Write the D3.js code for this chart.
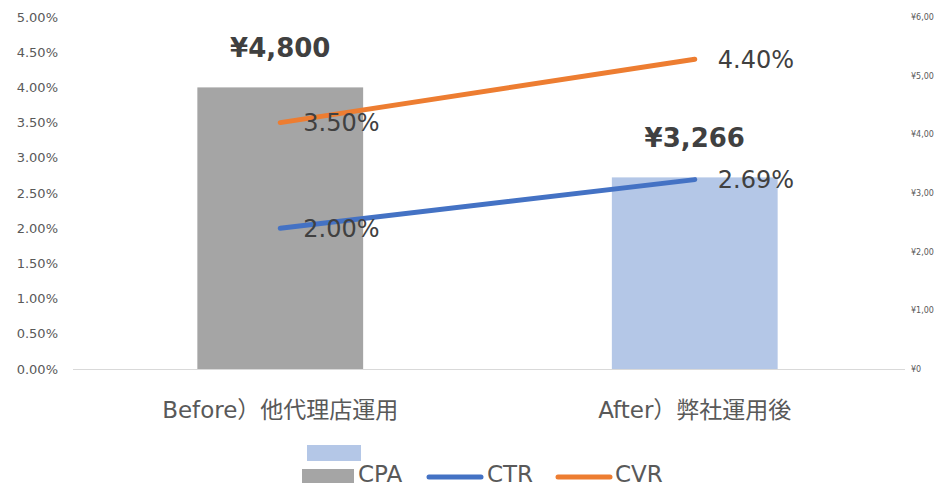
<!DOCTYPE html>
<html><head><meta charset="utf-8">
<script src="https://cdn.jsdelivr.net/npm/d3@7"></script>
<style>
html,body{margin:0;padding:0;background:#fff;}
svg{display:block;font-family:"DejaVu Sans","Noto Sans CJK JP",sans-serif;}
</style></head>
<body>
<svg id="chart" width="934" height="483"></svg>
<script>
const categories = ["Before）他代理店運用", "After）弊社運用後"];
const cpaValues = [4800, 3266];
const cpaLabels = ["¥4,800", "¥3,266"];
const ctrValues = [0.02, 0.0269];
const cvrValues = [0.035, 0.044];
const leftTicks = [0, 0.005, 0.01, 0.015, 0.02, 0.025, 0.03, 0.035, 0.04, 0.045, 0.05];
const rightTicks = [0, 1000, 2000, 3000, 4000, 5000, 6000];
const legendNames = ["CPA", "CTR", "CVR"];

const barColors = ["#A5A5A5", "#B4C7E7"];
const ctrColor = "#4472C4", cvrColor = "#ED7D31";
const textColor = "#595959", labelColor = "#404040";

const svg = d3.select("#chart");
const plotTop = 17, plotBottom = 369, plotLeft = 73, plotRight = 902;

const x = d3.scaleBand().domain(categories).range([plotLeft, plotRight]).paddingInner(0.6).paddingOuter(0.3);
const yL = d3.scaleLinear().domain([0, 0.05]).range([plotBottom, plotTop]);
const yR = d3.scaleLinear().domain([0, 6000]).range([plotBottom, plotTop]);
const cx = c => x(c) + x.bandwidth() / 2;

// left axis
const axL = d3.axisLeft(yL).tickValues(leftTicks).tickFormat(d3.format(".2%")).tickSize(0).tickPadding(0);
const gL = svg.append("g").attr("transform", `translate(58,0)`).call(axL);
gL.select(".domain").remove();
gL.selectAll("text").attr("fill", textColor).style("font-size", "13px").style("font-family", "DejaVu Sans");

// right axis
const axR = d3.axisRight(yR).tickValues(rightTicks).tickFormat(d => "¥" + d3.format(",")(d)).tickSize(0).tickPadding(0);
const gR = svg.append("g").attr("transform", `translate(911,0)`).call(axR);
gR.select(".domain").remove();
gR.selectAll("text").attr("fill", textColor).style("font-size", "8px").style("font-family", "DejaVu Sans");

// bars
svg.append("g").selectAll("rect").data(categories).join("rect")
  .attr("x", d => x(d)).attr("width", x.bandwidth())
  .attr("y", (d, i) => yR(cpaValues[i])).attr("height", (d, i) => plotBottom - yR(cpaValues[i]))
  .attr("fill", (d, i) => barColors[i]);

// x axis line
svg.append("line").attr("x1", plotLeft).attr("x2", 905).attr("y1", plotBottom + 0.5).attr("y2", plotBottom + 0.5)
  .attr("stroke", "#D9D9D9").attr("stroke-width", 1);

// category labels
svg.append("g").selectAll("text").data(categories).join("text")
  .attr("x", d => cx(d)).attr("y", 418).attr("text-anchor", "middle")
  .attr("fill", textColor).style("font-size", "23px").text(d => d);

// lines
const line = d3.line();
[[ctrValues, ctrColor], [cvrValues, cvrColor]].forEach(([vals, col]) => {
  svg.append("path")
    .attr("d", line(categories.map((c, i) => [cx(c), yL(vals[i])])))
    .attr("fill", "none").attr("stroke", col).attr("stroke-width", 5).attr("stroke-linecap", "round");
});

// bar labels
svg.append("g").selectAll("text").data(categories).join("text")
  .attr("x", d => cx(d)).attr("y", (d, i) => yR(cpaValues[i]) - 30).attr("text-anchor", "middle")
  .attr("fill", labelColor).style("font-size", "26px").style("font-weight", "bold").text((d, i) => cpaLabels[i]);

// line labels
[ctrValues, cvrValues].forEach(vals => {
  svg.append("g").selectAll("text").data(categories).join("text")
    .attr("x", d => cx(d) + 23).attr("y", (d, i) => yL(vals[i])).attr("dy", "0.36em")
    .attr("fill", labelColor).style("font-size", "24px").text((d, i) => d3.format(".2%")(vals[i]));
});

// legend
const lg = svg.append("g");
lg.append("rect").attr("x", 307).attr("y", 445).attr("width", 54).attr("height", 16).attr("fill", barColors[1]);
lg.append("rect").attr("x", 302).attr("y", 469).attr("width", 52).attr("height", 16).attr("fill", barColors[0]);
lg.append("text").attr("x", 358).attr("y", 482).attr("fill", textColor).style("font-size", "23px").text(legendNames[0]);
lg.append("line").attr("x1", 429).attr("x2", 481).attr("y1", 477).attr("y2", 477).attr("stroke", ctrColor).attr("stroke-width", 5).attr("stroke-linecap", "round");
lg.append("text").attr("x", 487).attr("y", 482).attr("fill", textColor).style("font-size", "23px").text(legendNames[1]);
lg.append("line").attr("x1", 558).attr("x2", 610).attr("y1", 477).attr("y2", 477).attr("stroke", cvrColor).attr("stroke-width", 5).attr("stroke-linecap", "round");
lg.append("text").attr("x", 615).attr("y", 482).attr("fill", textColor).style("font-size", "23px").text(legendNames[2]);
</script>
</body></html>
